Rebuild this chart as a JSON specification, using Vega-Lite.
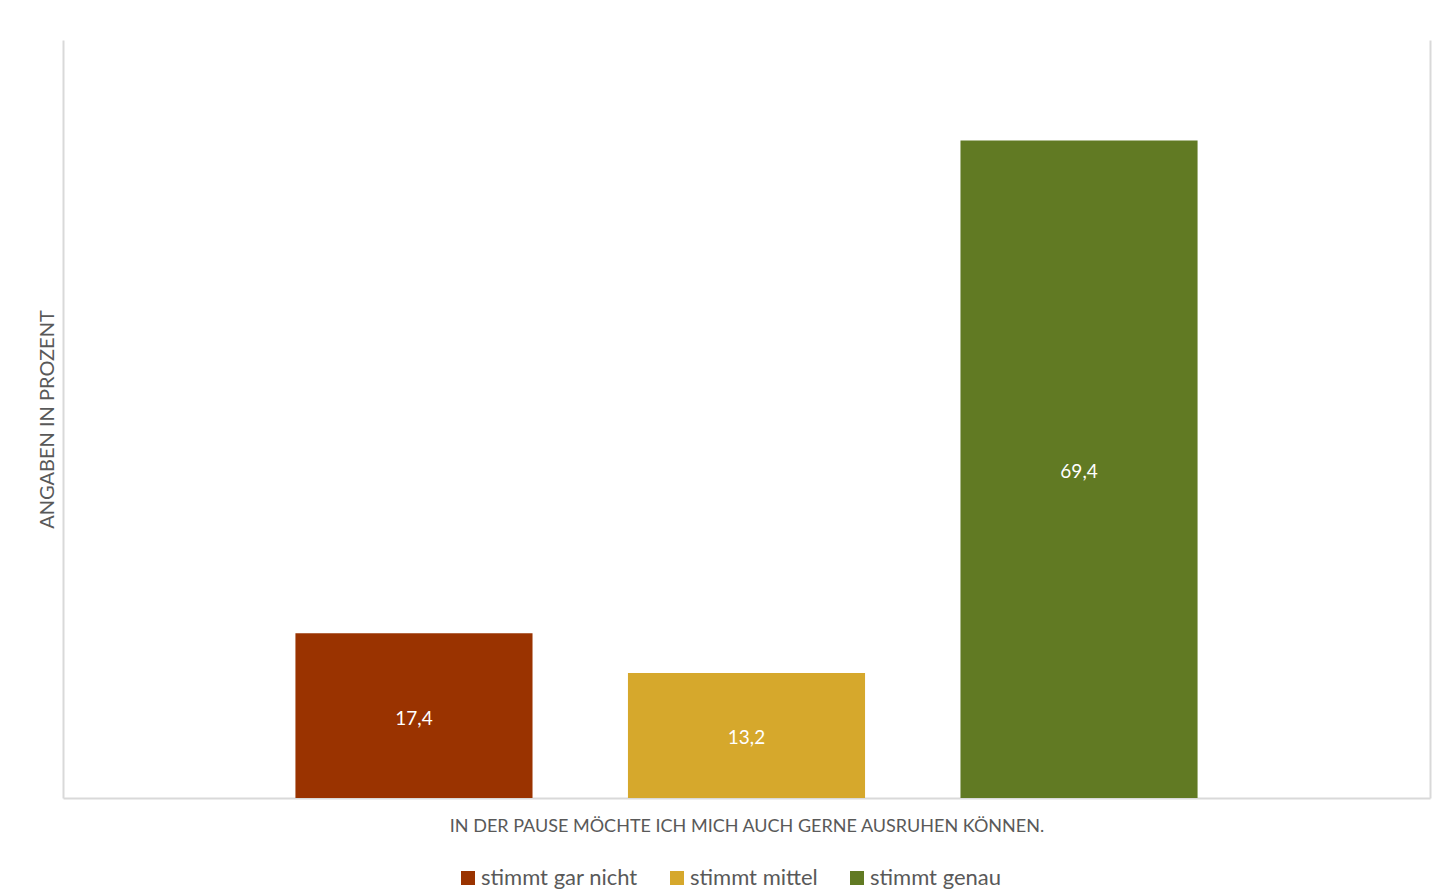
{
  "$schema": "https://vega.github.io/schema/vega-lite/v6.json",
  "width": 1367,
  "height": 758,
  "autosize": {"type": "none"},
  "padding": {"left": 63, "top": 40, "right": 9, "bottom": 93},
  "background": "white",
  "config": {
    "view": {"stroke": null},
    "font": "Lato",
    "locale": {"number": {"decimal": ",", "thousands": ".", "grouping": [3], "currency": ["", " €"]}}
  },
  "data": {
    "values": [
      {"Antwort": "stimmt gar nicht", "Prozent": 17.4},
      {"Antwort": "stimmt mittel", "Prozent": 13.2},
      {"Antwort": "stimmt genau", "Prozent": 69.4}
    ]
  },
  "encoding": {
    "x": {
      "field": "Antwort",
      "type": "nominal",
      "sort": null,
      "scale": {"paddingInner": 0.287, "paddingOuter": 0.699},
      "axis": {
        "labels": false,
        "ticks": false,
        "grid": false,
        "domainColor": "#d9d9d9",
        "domainWidth": 2,
        "title": "IN DER PAUSE MÖCHTE ICH MICH AUCH GERNE AUSRUHEN KÖNNEN.",
        "titleFont": "Lato",
        "titleFontSize": 18,
        "titleFontWeight": "normal",
        "titleColor": "#595959",
        "titlePadding": 19
      }
    }
  },
  "layer": [
    {
      "mark": {"type": "bar"},
      "encoding": {
        "y": {
          "field": "Prozent",
          "type": "quantitative",
          "scale": {"domain": [0, 80], "nice": false},
          "axis": {
            "orient": "left",
            "labels": false,
            "ticks": false,
            "grid": false,
            "domainColor": "#d9d9d9",
            "domainWidth": 2,
            "title": "ANGABEN IN PROZENT",
            "titleFont": "Lato",
            "titleFontSize": 20,
            "titleFontWeight": "normal",
            "titleColor": "#595959",
            "titlePadding": 6
          }
        },
        "color": {
          "field": "Antwort",
          "type": "nominal",
          "sort": null,
          "scale": {
            "domain": ["stimmt gar nicht", "stimmt mittel", "stimmt genau"],
            "range": ["#9a3300", "#d6a82c", "#617a23"]
          },
          "legend": {
            "orient": "none",
            "legendX": 394,
            "legendY": 827,
            "direction": "horizontal",
            "title": null,
            "symbolType": "square",
            "symbolSize": 196,
            "symbolStrokeWidth": 0,
            "symbolOpacity": 1,
            "labelFont": "Lato",
            "labelFontSize": 22,
            "labelColor": "#595959",
            "labelOffset": 2,
            "columnPadding": 28
          }
        }
      }
    },
    {
      "transform": [{"calculate": "datum.Prozent / 2", "as": "Mitte"}],
      "mark": {"type": "text", "color": "white", "fontSize": 19, "font": "Lato", "baseline": "middle", "dy": 3},
      "encoding": {
        "y": {
          "field": "Mitte",
          "type": "quantitative",
          "axis": {
            "orient": "right",
            "labels": false,
            "ticks": false,
            "grid": false,
            "title": null,
            "domainColor": "#d9d9d9",
            "domainWidth": 2
          }
        },
        "text": {"field": "Prozent", "type": "quantitative", "format": ".1f"}
      }
    }
  ],
  "resolve": {"axis": {"y": "independent"}}
}
